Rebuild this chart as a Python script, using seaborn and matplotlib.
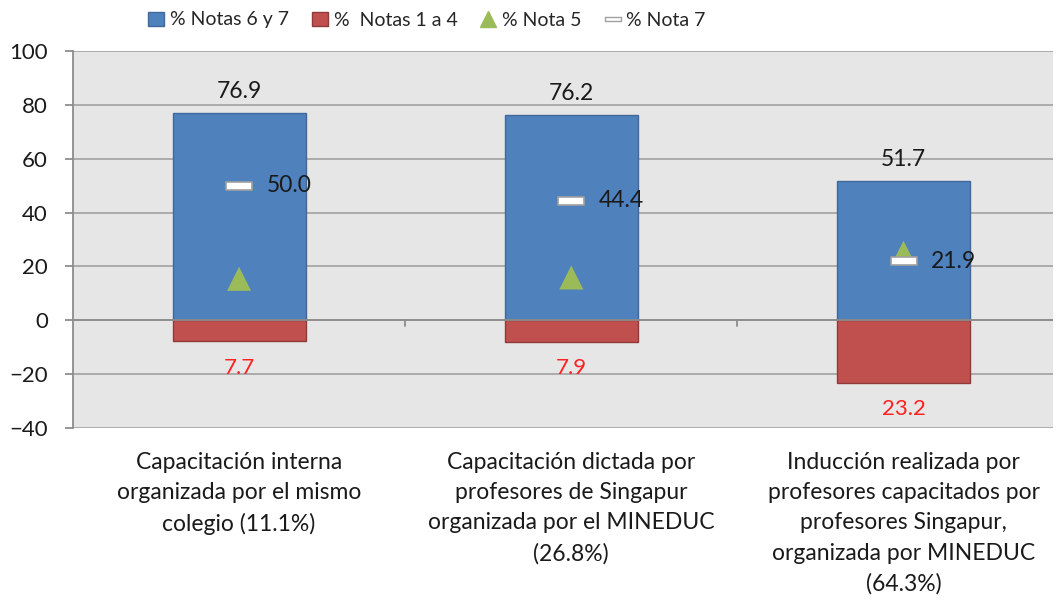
import numpy as np
import pandas as pd
import matplotlib
matplotlib.use('Agg')
import matplotlib.pyplot as plt
from matplotlib.lines import Line2D
from matplotlib.patches import Patch
from matplotlib.path import Path
import seaborn as sns

categorias = [
    'Capacitación interna\norganizada por el mismo\ncolegio (11.1%)',
    'Capacitación dictada por\nprofesores de Singapur\norganizada por el MINEDUC\n(26.8%)',
    'Inducción realizada por\nprofesores capacitados por\nprofesores Singapur,\norganizada por MINEDUC\n(64.3%)',
]
notas_6_7 = [76.9, 76.2, 51.7]
notas_1_4 = [7.7, 7.9, 23.2]
nota_5 = [15.4, 15.9, 25.1]
nota_7 = [50.0, 44.4, 21.9]

AZUL = '#4f81bd'
ROJO = '#c0504d'
VERDE = '#9bbb59'

sns.set_style('white')
plt.rcParams['font.family'] = ['Lato', 'DejaVu Sans']

df = pd.DataFrame({
    'cat': categorias,
    'pos': np.arange(len(categorias)),
    'n67': notas_6_7,
    'n14': [-v for v in notas_1_4],
    'n5': nota_5,
    'n7': nota_7,
})

fig = plt.figure(figsize=(10.56, 6.05), dpi=100)
ax = fig.add_axes([73 / 1056, 1 - 428 / 605, (1053 - 73) / 1056, (428 - 51) / 605])
ax.set_facecolor('#e6e6e6')
ax.set_axisbelow(True)
ax.yaxis.grid(True, color='#a6a6a6', linewidth=1.3)

sns.barplot(data=df, x='cat', y='n67', color=AZUL, width=0.4, saturation=1,
            edgecolor='#41689a', linewidth=1, ax=ax)
sns.barplot(data=df, x='cat', y='n14', color=ROJO, width=0.4, saturation=1,
            edgecolor='#8e3b39', linewidth=1, ax=ax)

dash = Path([(-1, -0.28), (1, -0.28), (1, 0.28), (-1, 0.28), (-1, -0.28)],
            [Path.MOVETO, Path.LINETO, Path.LINETO, Path.LINETO, Path.CLOSEPOLY])
sns.scatterplot(data=df, x='pos', y='n5', marker='^', s=300, color=VERDE,
                edgecolor='none', ax=ax, zorder=4)
sns.scatterplot(data=df, x='pos', y='n7', marker=dash, s=360, color='white',
                edgecolor='#a0a0a0', linewidth=1.2, ax=ax, zorder=5)

for i in range(len(categorias)):
    ax.annotate(f'{notas_6_7[i]:.1f}', (i, notas_6_7[i]), xytext=(0, 8),
                textcoords='offset points', ha='center', va='bottom', fontsize=16.5,
                color='#1a1a1a')
    ax.annotate(f'{notas_1_4[i]:.1f}', (i, -notas_1_4[i]), xytext=(0, -12),
                textcoords='offset points', ha='center', va='top', fontsize=16,
                color='#ff2020')
    ax.annotate(f'{nota_7[i]:.1f}', (i, nota_7[i]), xytext=(20, 0),
                textcoords='offset points', ha='left', va='center', fontsize=16.5,
                color='#1a1a1a')

ax.axhline(0, color='#8c8c8c', linewidth=1.3, zorder=3)
for b in [0.5, 1.5]:
    ax.plot([b, b], [0, -2], color='#8c8c8c', linewidth=1.3, zorder=3)

ax.set_ylim(-40, 100)
ax.set_yticks(range(-40, 101, 20))
ax.set_xlim(-0.5, 2.45)
ax.set_xlabel('')
ax.set_ylabel('')
for s in ['top', 'right', 'bottom']:
    ax.spines[s].set_visible(False)
ax.spines['left'].set_color('#8c8c8c')
ax.spines['left'].set_linewidth(1.3)
ax.tick_params(axis='y', left=True, length=6, width=1.3, color='#8c8c8c',
               labelsize=16, pad=12, labelcolor='#1a1a1a')
ax.tick_params(axis='x', length=0, labelsize=16.5, pad=17, labelcolor='#1a1a1a')
for lbl in ax.get_xticklabels():
    lbl.set_linespacing(1.55)

handles = [
    Patch(facecolor=AZUL, edgecolor='#41689a'),
    Patch(facecolor=ROJO, edgecolor='#8e3b39'),
    Line2D([], [], marker='^', linestyle='none', color=VERDE, markersize=12),
    Line2D([], [], marker=dash, linestyle='none', markerfacecolor='white',
           markeredgecolor='#a0a0a0', markersize=12),
]
labels = ['% Notas 6 y 7', '%  Notas 1 a 4', '% Nota 5', '% Nota 7']
fig.legend(handles, labels, loc='center', bbox_to_anchor=(427 / 1056, 1 - 20 / 605),
           ncol=4, frameon=False, fontsize=14, handlelength=0.8, handletextpad=0.3,
           columnspacing=1.2)

plt.savefig('out.png', dpi=100)
plt.close()
